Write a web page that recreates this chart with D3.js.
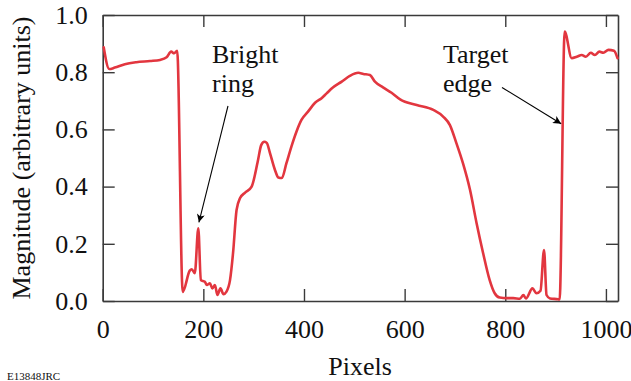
<!DOCTYPE html>
<html>
<head>
<meta charset="utf-8">
<script src="https://cdn.jsdelivr.net/npm/d3@7"></script>
<style>
  html, body { margin: 0; padding: 0; background: #fff; }
  svg { display: block; }
  text { font-family: "Liberation Serif", "Times New Roman", serif; fill: #111; }
</style>
</head>
<body>
<svg id="chart" width="631" height="381"></svg>
<script>
// ---- data ----
const pixels = [2, 13, 24, 44, 67, 94, 114, 127, 136, 142, 148, 159, 173, 177, 183, 190, 195, 203, 207, 213, 218, 223, 228, 234, 240, 246, 253, 259, 266, 273, 283, 296, 308, 315, 321, 326, 332, 342, 349, 356, 365, 375, 385, 395, 408, 422, 435, 445, 458, 475, 491, 508, 518, 531, 541, 557, 574, 591, 624, 657, 677, 690, 703, 716, 730, 743, 756, 769, 779, 789, 803, 816, 829, 836, 841, 854, 862, 870, 877, 882, 889, 905, 908, 918, 932, 942, 952, 960, 970, 978, 987, 995, 1005, 1016, 1023];
const magnitude = [0.887, 0.811, 0.816, 0.828, 0.835, 0.839, 0.843, 0.852, 0.872, 0.866, 0.875, 0.032, 0.106, 0.111, 0.097, 0.254, 0.073, 0.067, 0.056, 0.062, 0.044, 0.056, 0.021, 0.044, 0.024, 0.033, 0.073, 0.167, 0.318, 0.360, 0.379, 0.400, 0.487, 0.545, 0.557, 0.553, 0.520, 0.460, 0.432, 0.430, 0.481, 0.540, 0.592, 0.633, 0.662, 0.693, 0.709, 0.726, 0.747, 0.767, 0.787, 0.798, 0.794, 0.790, 0.767, 0.747, 0.728, 0.705, 0.685, 0.668, 0.644, 0.615, 0.551, 0.481, 0.388, 0.272, 0.167, 0.073, 0.027, 0.012, 0.010, 0.010, 0.008, 0.021, 0.009, 0.044, 0.027, 0.036, 0.178, 0.021, 0.009, 0.006, 0.005, 0.942, 0.849, 0.854, 0.860, 0.854, 0.868, 0.860, 0.872, 0.868, 0.878, 0.875, 0.849];
const xTicks = [0, 200, 400, 600, 800, 1000];
const yTicks = [0.0, 0.2, 0.4, 0.6, 0.8, 1.0];
const xLabel = "Pixels";
const yLabel = "Magnitude (arbitrary units)";
const annotations = [
  { lines: ["Bright", "ring"], at: [190, 0.254] },
  { lines: ["Target", "edge"], at: [916, 0.62] }
];
const figureId = "E13848JRC";

// ---- layout ----
const svg = d3.select("#chart");
const plotL = 102.7, plotR = 618, plotT = 15, plotB = 301;
const x = d3.scaleLinear().domain([0, 1024]).range([plotL, plotR]);
const y = d3.scaleLinear().domain([0, 1]).range([plotB, plotT]);
const axisColor = "#3a3a3a";
const fontSize = 26;

// arrow marker
svg.append("defs").append("marker")
  .attr("id", "arrow").attr("viewBox", "0 0 10 10")
  .attr("refX", 10).attr("refY", 5)
  .attr("markerWidth", 11).attr("markerHeight", 8)
  .attr("markerUnits", "userSpaceOnUse")
  .attr("orient", "auto")
  .append("path").attr("d", "M0,0 L10,5 L0,10 L2.5,5 Z").attr("fill", "#000");

// axes
function styleAxis(g) {
  g.selectAll(".domain").attr("stroke", axisColor).attr("stroke-width", 1.6);
  g.selectAll(".tick line").attr("stroke", axisColor).attr("stroke-width", 1.4);
  g.selectAll(".tick text").attr("font-size", fontSize)
    .attr("font-family", "'Liberation Serif', 'Times New Roman', serif").attr("fill", "#111");
}
const fmt = d3.format(".1f");

svg.append("g").attr("transform", `translate(0,${plotB})`)
  .call(d3.axisBottom(x).tickValues(xTicks).tickSize(-12).tickSizeOuter(0).tickPadding(18.5).tickFormat(d3.format("d")))
  .call(styleAxis);
svg.append("g").attr("transform", `translate(0,${plotT})`)
  .call(d3.axisTop(x).tickValues(xTicks).tickSize(-12).tickSizeOuter(0).tickFormat(""))
  .call(styleAxis);
svg.append("g").attr("transform", `translate(${plotL},0)`)
  .call(d3.axisLeft(y).tickValues(yTicks).tickSize(-12).tickSizeOuter(0).tickPadding(15).tickFormat(fmt))
  .call(styleAxis);
svg.append("g").attr("transform", `translate(${plotR},0)`)
  .call(d3.axisRight(y).tickValues(yTicks).tickSize(-12).tickSizeOuter(0).tickFormat(""))
  .call(styleAxis);

// line
const data = pixels.map((p, i) => [p, magnitude[i]]);
svg.append("path").datum(data)
  .attr("fill", "none").attr("stroke", "#e2363f").attr("stroke-width", 2.6)
  .attr("stroke-linejoin", "round").attr("stroke-linecap", "round")
  .attr("d", d3.line().x(d => x(d[0])).y(d => y(d[1])).curve(d3.curveMonotoneX));

// axis labels
svg.append("text").attr("x", 360).attr("y", 375).attr("text-anchor", "middle")
  .attr("font-size", fontSize).text(xLabel);
svg.append("text").attr("transform", `translate(30,${(plotT + plotB) / 2}) rotate(-90)`)
  .attr("text-anchor", "middle").attr("font-size", fontSize).text(yLabel);

// annotations
const annPos = [
  { tx: 212, ty: 63, from: [228, 106] },
  { tx: 443, ty: 63, from: [502, 87.5] }
];
annotations.forEach((a, i) => {
  const p = annPos[i];
  const t = svg.append("text").attr("font-size", fontSize);
  a.lines.forEach((l, j) => t.append("tspan").attr("x", p.tx).attr("y", p.ty + j * 29).text(l));
  let tip;
  if (i === 0) tip = [x(a.at[0]) + 0.6, y(a.at[1]) - 6];
  else tip = [x(a.at[0]) - 2.5, y(a.at[1])];
  svg.append("line").attr("x1", p.from[0]).attr("y1", p.from[1])
    .attr("x2", tip[0]).attr("y2", tip[1])
    .attr("stroke", "#000").attr("stroke-width", 1.1).attr("marker-end", "url(#arrow)");
});

// figure id (kept fully inside the picture)
svg.append("text").attr("x", 7).attr("y", 380).attr("font-size", 11).text(figureId);
</script>
</body>
</html>
